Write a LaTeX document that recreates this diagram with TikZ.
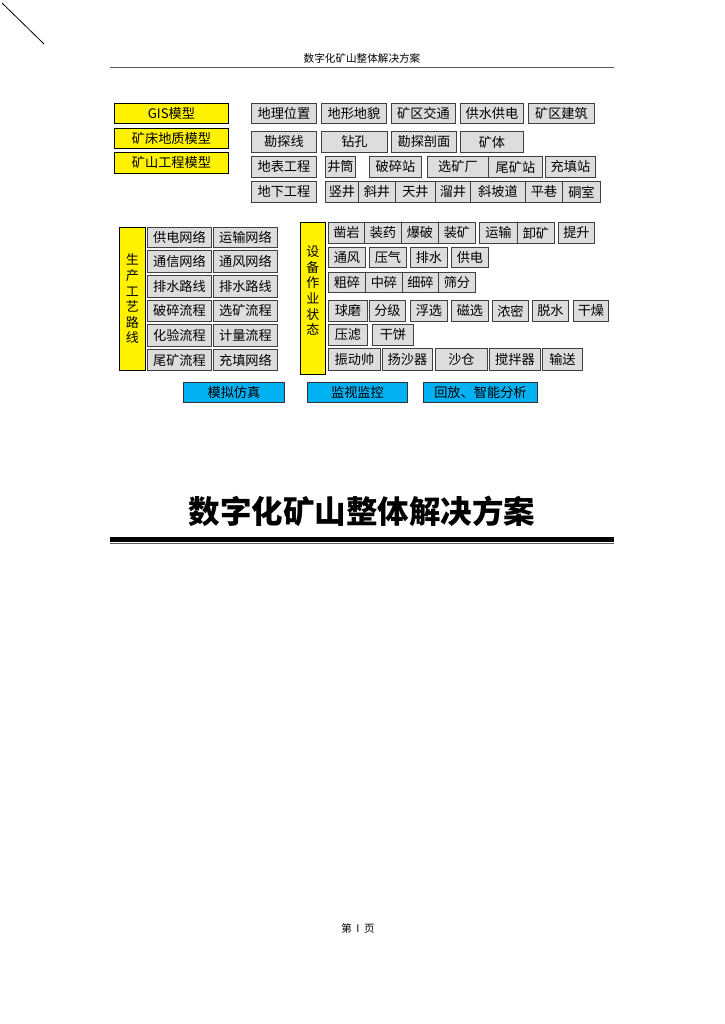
\documentclass[tikz,border=0pt]{standalone}
\usepackage{fontspec}
\newfontfamily\cjk{Noto Sans CJK SC}
\definecolor{btngray}{RGB}{221, 221, 221}
\definecolor{simblue}{RGB}{0, 176, 240}
\definecolor{hdrgray}{RGB}{90, 90, 90}
\usetikzlibrary{positioning}
\tikzset{
    btn/.style={rectangle, draw=black!75, fill=btngray, line width=0.9pt, anchor=north west,
                inner sep=0pt, minimum height=20pt, font=\cjk\fontsize{13.2}{13.2}\selectfont},
    modelbox/.style={btn, fill=yellow, draw=black},
    sidebox/.style={btn, fill=yellow, draw=black, align=center,
                    font=\cjk\fontsize{13}{15.6}\selectfont},
    simbox/.style={btn, fill=simblue, draw=black!80},
}
\begin{document}
\begin{tikzpicture}[x=1pt, y=-1pt]
    \useasboundingbox (0,0) rectangle (724,1024);
    % page header
    \draw[line width=0.8pt] (2,3) -- (44,44);
    \node[font=\cjk\fontsize{10.6}{10.6}\selectfont] (hdr) at (362,58) {数字化矿山整体解决方案};
    \draw[hdrgray, line width=1pt] (110,67.5) -- (614,67.5);

    % models
    \node[modelbox, minimum width=114pt] (gis) at (114,103) {GIS模型};
    \node[modelbox, minimum width=114pt] (geomodel) at (114,128) {矿床地质模型};
    \node[modelbox, minimum width=114pt, minimum height=21pt] (engmodel) at (114,152) {矿山工程模型};

    % geology rows
    \node[btn, minimum width=65pt] (site) at (251,103) {地理位置};
    \node[btn, minimum width=65pt] (terrain) at (321,103) {地形地貌};
    \node[btn, minimum width=64pt] (traffic) at (391,103) {矿区交通};
    \node[btn, minimum width=63pt] (supply) at (460,103) {供水供电};
    \node[btn, minimum width=66pt] (building) at (528,103) {矿区建筑};

    \node[btn, minimum width=65pt, minimum height=21pt] (exline) at (251,131) {勘探线};
    \node[btn, minimum width=66pt, minimum height=21pt] (drill) at (321,131) {钻孔};
    \node[btn, minimum width=65pt, minimum height=21pt] (section) at (391,131) {勘探剖面};
    \node[btn, minimum width=63pt, minimum height=21pt] (orebody) at (460,131) {矿体};

    \node[btn, minimum width=65pt, minimum height=21pt] (surface) at (251,156) {地表工程};
    \node[btn, minimum width=30pt, minimum height=21pt] (shaft) at (325,156) {井筒};
    \node[btn, minimum width=52pt, minimum height=21pt] (crushst) at (369,156) {破碎站};
    \node[btn, minimum width=61pt, minimum height=21pt] (mill) at (427,156) {选矿厂};
    \node[btn, minimum width=54pt, minimum height=21pt] (tailst) at (488,156) {尾矿站};
    \node[btn, minimum width=50pt, minimum height=21pt] (fillst) at (545,156) {充填站};

    \node[btn, minimum width=65pt, minimum height=21pt] (underground) at (251,181) {地下工程};
    \node[btn, minimum width=33pt, minimum height=21pt] (vshaft) at (325,181) {竖井};
    \node[btn, minimum width=37pt, minimum height=21pt] (incline) at (358,181) {斜井};
    \node[btn, minimum width=40pt, minimum height=21pt] (raise) at (395,181) {天井};
    \node[btn, minimum width=35pt, minimum height=21pt] (orepass) at (435,181) {溜井};
    \node[btn, minimum width=55pt, minimum height=21pt] (ramp) at (470,181) {斜坡道};
    \node[btn, minimum width=37pt, minimum height=21pt] (drift) at (525,181) {平巷};
    \node[btn, minimum width=38pt, minimum height=21pt] (chamber) at (562,181) {硐室};

    % production routes
    \node[sidebox, minimum width=26pt, minimum height=143pt] (route) at (119,227) {生\\产\\工\\艺\\路\\线};
    \node[btn, minimum width=64pt] (power) at (147,227) {供电网络};
    \node[btn, minimum width=64pt] (haulage) at (213,227) {运输网络};
    \node[btn, minimum width=64pt, minimum height=22pt] (comm) at (147,250) {通信网络};
    \node[btn, minimum width=64pt, minimum height=22pt] (vent) at (213,250) {通风网络};
    \node[btn, minimum width=64pt, minimum height=22pt] (drainA) at (147,275) {排水路线};
    \node[btn, minimum width=64pt, minimum height=22pt] (drainB) at (213,275) {排水路线};
    \node[btn, minimum width=64pt, minimum height=21pt] (crushflow) at (147,300) {破碎流程};
    \node[btn, minimum width=64pt, minimum height=21pt] (dressflow) at (213,300) {选矿流程};
    \node[btn, minimum width=64pt, minimum height=22pt] (assay) at (147,324) {化验流程};
    \node[btn, minimum width=64pt, minimum height=22pt] (metering) at (213,324) {计量流程};
    \node[btn, minimum width=64pt, minimum height=21pt] (tailflow) at (147,349) {尾矿流程};
    \node[btn, minimum width=64pt, minimum height=21pt] (fillnet) at (213,349) {充填网络};

    % equipment states
    \node[sidebox, minimum width=25pt, minimum height=152pt, text depth=16pt] (equip) at (300,222) {设\\备\\作\\业\\状\\态};
    \node[btn, minimum width=36pt, minimum height=21pt] (rockdrill) at (328,222) {凿岩};
    \node[btn, minimum width=37pt, minimum height=21pt] (charge) at (364,222) {装药};
    \node[btn, minimum width=37pt, minimum height=21pt] (blast) at (401,222) {爆破};
    \node[btn, minimum width=37pt, minimum height=21pt] (mucking) at (438,222) {装矿};
    \node[btn, minimum width=38pt, minimum height=21pt] (transport) at (479,222) {运输};
    \node[btn, minimum width=37pt, minimum height=21pt] (dump) at (517,222) {卸矿};
    \node[btn, minimum width=36pt, minimum height=21pt] (hoist) at (558,222) {提升};

    \node[btn, minimum width=37pt] (ventil) at (328,247) {通风};
    \node[btn, minimum width=37pt] (air) at (369,247) {压气};
    \node[btn, minimum width=37pt] (pump) at (410,247) {排水};
    \node[btn, minimum width=37pt] (elec) at (451,247) {供电};

    \node[btn, minimum width=37pt] (primary) at (328,272) {粗碎};
    \node[btn, minimum width=37pt] (secondary) at (365,272) {中碎};
    \node[btn, minimum width=36pt] (fine) at (402,272) {细碎};
    \node[btn, minimum width=37pt] (screen) at (438,272) {筛分};

    \node[btn, minimum width=39pt, minimum height=21pt] (ballmill) at (328,300) {球磨};
    \node[btn, minimum width=36pt, minimum height=21pt] (classify) at (369,300) {分级};
    \node[btn, minimum width=37pt, minimum height=21pt] (flotation) at (410,300) {浮选};
    \node[btn, minimum width=37pt, minimum height=21pt] (magnetic) at (451,300) {磁选};
    \node[btn, minimum width=36pt, minimum height=21pt] (thicken) at (492,300) {浓密};
    \node[btn, minimum width=36pt, minimum height=21pt] (dewater) at (532,300) {脱水};
    \node[btn, minimum width=35pt, minimum height=21pt] (dry) at (573,300) {干燥};

    \node[btn, minimum width=39pt, minimum height=21pt] (press) at (328,324) {压滤};
    \node[btn, minimum width=41pt, minimum height=21pt] (cake) at (372,324) {干饼};

    \node[btn, minimum width=52pt, minimum height=22pt] (vibrator) at (328,348) {振动帅};
    \node[btn, minimum width=50pt, minimum height=22pt] (sander) at (382,348) {扬沙器};
    \node[btn, minimum width=52pt, minimum height=22pt] (sandbin) at (435,348) {沙仓};
    \node[btn, minimum width=51pt, minimum height=22pt] (mixer) at (489,348) {搅拌器};
    \node[btn, minimum width=40pt, minimum height=22pt] (convey) at (542,348) {输送};

    % functions
    \node[simbox, minimum width=101pt] (simulate) at (183,382) {模拟仿真};
    \node[simbox, minimum width=100pt] (monitor) at (307,382) {监视监控};
    \node[simbox, minimum width=114pt] (replay) at (423,382) {回放、智能分析};

    % title
    \node[font=\cjk\bfseries\fontsize{31.5}{31.5}\selectfont] (title) at (362,511) {数字化矿山整体解决方案};
    \draw[line width=4.5pt] (110,539.5) -- (614,539.5);
    \draw[hdrgray, line width=1.3pt] (110,543.5) -- (614,543.5);

    % footer
    \node[font=\cjk\fontsize{10.5}{10.5}\selectfont] (pageno) at (358,928) {第 \ I \ 页};
\end{tikzpicture}
\end{document}
